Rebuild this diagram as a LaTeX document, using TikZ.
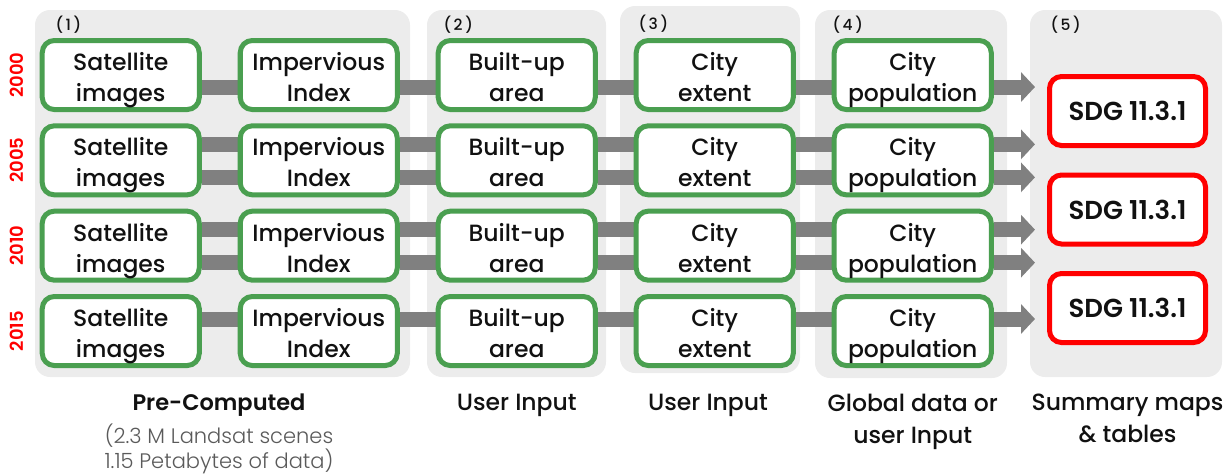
\documentclass[tikz,border=0pt]{standalone}
\usepackage{fontspec}
\setmainfont{Poppins}[UprightFont=* Medium, BoldFont=* SemiBold]
\newfontfamily\lightfont{Poppins}[UprightFont=* Light]
\usetikzlibrary{matrix,positioning,backgrounds,arrows.meta}

\definecolor{panelgray}{HTML}{ECECEC}
\definecolor{bargray}{HTML}{808080}
\definecolor{boxgreen}{HTML}{4A9F50}
\definecolor{notegray}{HTML}{5A5A5A}
\definecolor{textblack}{HTML}{111111}

\begin{document}
\begin{tikzpicture}[x=1pt, y=-1pt,
    stepbox/.style={draw=boxgreen, line width=5pt, rounded corners=12pt, fill=white,
      minimum width=157pt, minimum height=69pt, inner sep=0pt, align=center,
      text height=53pt, text depth=0pt, text=textblack,
      font=\fontsize{23.5}{31}\selectfont},
    flow/.style={column sep={198pt,between origins}, row sep={85.33pt,between origins}},
    sdgbox/.style={draw=red, line width=5pt, rounded corners=12pt, fill=white,
      minimum width=156pt, minimum height=69pt, inner sep=0pt, text=textblack,
      font=\fontsize{26}{30}\selectfont\bfseries},
    panel/.style={fill=panelgray, rounded corners=15pt},
    bar/.style={draw=bargray, line width=15pt},
    fat arrow/.style={bar, -{Triangle[width=29pt, length=14pt]}},
    year/.style={text=red, rotate=90, font=\fontsize{18}{18}\selectfont\bfseries},
    tag/.style={anchor=west, text=textblack, font=\fontsize{15.5}{15.5}\selectfont},
    caption/.style={anchor=north, inner sep=0pt, align=center, text=textblack,
      font=\fontsize{23.5}{32}\selectfont},
    note/.style={anchor=north, inner sep=0pt, align=center, text=notegray,
      font=\lightfont\fontsize{21}{25}\selectfont}
  ]
\useasboundingbox (0,0) rectangle (1223,475);

% Processing steps, one row per year
\matrix (m) [flow] at (516.75,203) {
  \node[stepbox] (sat1) {Satellite\\images}; & \node[stepbox] (imp1) {Impervious\\Index}; &
  \node[stepbox] (bua1) {Built-up\\area}; & \node[stepbox] (ext1) {City\\extent}; &
  \node[stepbox] (pop1) {City\\population}; \\
  \node[stepbox] (sat2) {Satellite\\images}; & \node[stepbox] (imp2) {Impervious\\Index}; &
  \node[stepbox] (bua2) {Built-up\\area}; & \node[stepbox] (ext2) {City\\extent}; &
  \node[stepbox] (pop2) {City\\population}; \\
  \node[stepbox] (sat3) {Satellite\\images}; & \node[stepbox] (imp3) {Impervious\\Index}; &
  \node[stepbox] (bua3) {Built-up\\area}; & \node[stepbox] (ext3) {City\\extent}; &
  \node[stepbox] (pop3) {City\\population}; \\
  \node[stepbox] (sat4) {Satellite\\images}; & \node[stepbox] (imp4) {Impervious\\Index}; &
  \node[stepbox] (bua4) {Built-up\\area}; & \node[stepbox] (ext4) {City\\extent}; &
  \node[stepbox] (pop4) {City\\population}; \\
};

% Indicator outputs
\node[sdgbox] (sdg1) at (1127.5,111) {SDG 11.3.1};
\node[sdgbox, below=24.5pt of sdg1] (sdg2) {SDG 11.3.1};
\node[sdgbox, below=24.5pt of sdg2] (sdg3) {SDG 11.3.1};

\coordinate (tip) at (1035,0);
\coordinate (yearcol) at (17,0);
\coordinate (caprow) at (0,394);

% Panels and flow bars behind the boxes
\begin{scope}[on background layer]
  \fill[panel] (35,10) rectangle (410,377);
  \fill[panel] (427,10) rectangle (606,377);
  \fill[panel] (620,6) rectangle (800,373);
  \fill[panel] (815,10) rectangle (1007,378);
  \fill[panel] (1030,10) rectangle (1222,377);
  \foreach \r/\s in {1/-12, 2/16, 2/-17, 3/16, 3/-17, 4/12} {
    \foreach \a/\b in {sat/imp, imp/bua, bua/ext, ext/pop}
      \draw[bar] ([yshift=\s pt]\a\r.east) -- ([yshift=\s pt]\b\r.west);
    \draw[fat arrow] ([yshift=\s pt]pop\r.east) -- ([yshift=\s pt]pop\r.east -| tip);
  }
\end{scope}

% Years
\foreach \r/\yr in {1/2000, 2/2005, 3/2010, 4/2015}
  \node[year] (y\yr) at (sat\r.west -| yearcol) {\yr};

% Panel numbers
\node[tag] (t1) at (52,25) {(\,1\,)};
\node[tag] (t2) at (440,25) {(\,2\,)};
\node[tag] (t3) at (635,24) {(\,3\,)};
\node[tag] (t4) at (829,25) {(\,4\,)};
\node[tag] (t5) at (1047,25) {(\,5\,)};

% Captions
\node[caption, font=\fontsize{22.5}{32}\selectfont\bfseries] (cap1) at (219,394) {Pre-Computed};
\node[note, below=6.5pt of cap1] (note1) {(2.3 M Landsat scenes\\1.15 Petabytes of data)};
\node[caption] (cap2) at (bua4 |- caprow) {User Input};
\node[caption] (cap3) at (708,394) {User Input};
\node[caption] (cap4) at (pop4 |- caprow) {Global data or\\user Input};
\node[caption] (cap5) at (sdg3 |- caprow) {Summary maps\\\& tables};

\end{tikzpicture}
\end{document}
